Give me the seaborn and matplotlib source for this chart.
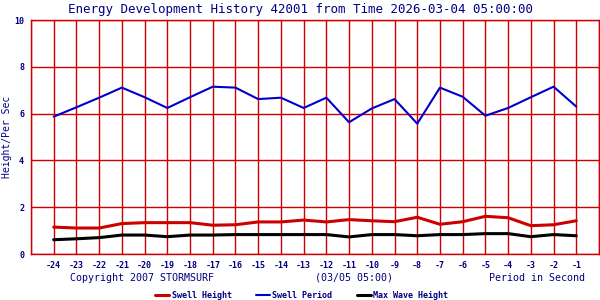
import matplotlib
matplotlib.use("Agg")
import matplotlib.pyplot as plt
import seaborn as sns
import pandas as pd

hours = list(range(-24, 0))
swell_height = [1.15, 1.11, 1.11, 1.30, 1.34, 1.34, 1.34, 1.23, 1.25, 1.37, 1.37, 1.45,
                1.37, 1.47, 1.42, 1.38, 1.57, 1.27, 1.38, 1.61, 1.55, 1.21, 1.25, 1.42]
swell_period = [5.87, 6.27, 6.68, 7.11, 6.70, 6.24, 6.70, 7.15, 7.11, 6.62, 6.68, 6.24,
                6.68, 5.63, 6.22, 6.62, 5.57, 7.11, 6.72, 5.91, 6.24, 6.70, 7.15, 6.30]
max_wave_height = [0.61, 0.65, 0.70, 0.81, 0.81, 0.74, 0.81, 0.81, 0.83, 0.83, 0.83, 0.83,
                   0.83, 0.73, 0.83, 0.83, 0.78, 0.83, 0.83, 0.87, 0.87, 0.74, 0.83, 0.78]
series_names = ["Swell Height", "Swell Period", "Max Wave Height"]
y_ticks = [0, 2, 4, 6, 8, 10]

title = "Energy Development History 42001 from Time 2026-03-04 05:00:00"

df = pd.DataFrame({
    "hour": hours * 3,
    "value": swell_height + swell_period + max_wave_height,
    "series": [series_names[0]] * 24 + [series_names[1]] * 24 + [series_names[2]] * 24,
})

sns.set_style("white")
plt.rcParams["font.family"] = ["DejaVu Sans Mono"]

navy = "#000080"
red = "#cc0000"
palette = {"Swell Height": red, "Swell Period": "#0000cc", "Max Wave Height": "#000000"}

fig = plt.figure(figsize=(6, 3), dpi=100)
ax = fig.add_axes([31 / 600, 1 - 254 / 300, 568 / 600, 234 / 300])

for name, lw in zip(series_names, [2.2, 1.5, 2.2]):
    sns.lineplot(data=df[df["series"] == name], x="hour", y="value", color=palette[name],
                 lw=lw, ax=ax, label=name, legend=False)

ax.set_xlim(-25, 0)
ax.set_ylim(0, 10)
ax.set_xticks(range(-25, 1))
ax.set_xticklabels([""] + [str(h) for h in hours] + [""])
ax.set_yticks(y_ticks)
ax.set_yticklabels([str(t) for t in y_ticks])
ax.grid(True, color=red, lw=1.0)
ax.set_axisbelow(True)
for s in ax.spines.values():
    s.set_color(red)
    s.set_linewidth(1.0)
ax.tick_params(axis="both", length=0, labelsize=6, labelcolor=navy, pad=5)
for lab in ax.get_xticklabels() + ax.get_yticklabels():
    lab.set_fontweight("bold")
ax.set_xlabel("")
ax.set_ylabel("Height/Per Sec", color=navy, fontsize=7)
ax.yaxis.label.set_verticalalignment("center")
ax.yaxis.set_label_coords((7 - 31) / 568, 0.5)

fig.text(0.5, 1 - 9 / 300, title, ha="center", va="center", color=navy, fontsize=9)
fig.text(70 / 600, 1 - 278 / 300, "Copyright 2007 STORMSURF", ha="left", va="center",
         color=navy, fontsize=7.2)
fig.text(354 / 600, 1 - 278 / 300, "(03/05 05:00)", ha="center", va="center",
         color=navy, fontsize=7.2)
fig.text(585 / 600, 1 - 278 / 300, "Period in Second", ha="right", va="center",
         color=navy, fontsize=7.2)

handles, labels = ax.get_legend_handles_labels()
leg = fig.legend(handles, labels, ncol=3, loc="center left",
                 bbox_to_anchor=(155 / 600, 1 - 295 / 300), frameon=False,
                 borderpad=0, borderaxespad=0, handlelength=1.7, handletextpad=0.3,
                 columnspacing=2.9, prop={"size": 6, "weight": "bold"})
for t in leg.get_texts():
    t.set_color(navy)

fig.savefig("out.png", dpi=100)
